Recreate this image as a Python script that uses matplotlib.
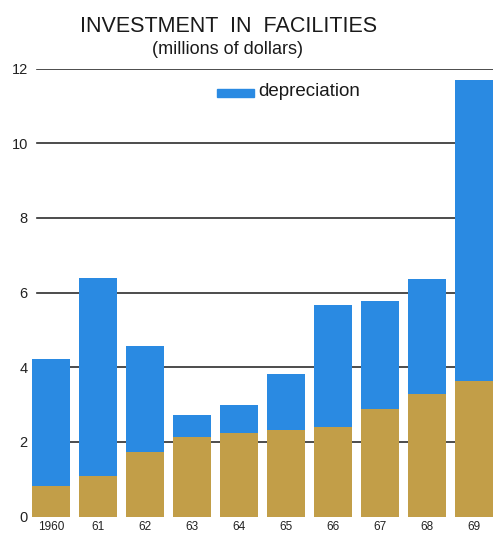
import matplotlib
matplotlib.use("Agg")
import matplotlib.pyplot as plt
from matplotlib.patches import Rectangle

years = ["1960", "61", "62", "63", "64", "65", "66", "67", "68", "69"]
total = [4.23, 6.40, 4.58, 2.71, 3.00, 3.81, 5.67, 5.77, 6.36, 11.70]
base = [0.82, 1.08, 1.72, 2.12, 2.24, 2.31, 2.39, 2.89, 3.28, 3.62]
depreciation = [t - b for t, b in zip(total, base)]
yticks = [0, 2, 4, 6, 8, 10, 12]

BLUE = "#2a8ae2"
TAN = "#c29e48"
GRID = "#2e2e2e"

plt.rcParams["font.family"] = ["Liberation Sans", "DejaVu Sans"]

fig = plt.figure(figsize=(4.95, 5.35), dpi=100)
ax = fig.add_axes([32 / 495, 18.5 / 535, 461 / 495, 448 / 535])

x = list(range(len(years)))
w = 0.81
ax.set_xlim(-w / 2, len(years) - 1 + w / 2)
ax.set_ylim(0, 12)

# horizontal rules behind the bars
for yv in yticks[1:]:
    ax.axhline(yv, xmin=0.01, xmax=1.0, color=GRID, lw=1.2, zorder=1)

ax.bar(x, base, width=w, color=TAN, zorder=2)
ax.bar(x, depreciation, bottom=base, width=w, color=BLUE, zorder=2)

for s in ax.spines.values():
    s.set_visible(False)
ax.set_yticks(yticks)
ax.set_yticklabels([str(v) for v in yticks], fontsize=10.5, color="#222222")
ax.tick_params(axis="y", length=0, pad=3)
ax.set_xticks(x)
ax.set_xticklabels(years, fontsize=8.5, color="#222222")
ax.tick_params(axis="x", length=0, pad=3)

fig.text(229 / 495, 1 - 26 / 535, "INVESTMENT  IN  FACILITIES", ha="center",
         va="center", fontsize=15.5, color="#1a1a1a")
fig.text(228 / 495, 1 - 50 / 535, "(millions of dollars)", ha="center",
         va="center", fontsize=13, color="#1a1a1a")

# legend swatch and label
fig.patches.append(Rectangle((217 / 495, 1 - 97 / 535), 37 / 495, 8 / 535,
                             transform=fig.transFigure, color=BLUE))
fig.text(258 / 495, 1 - 91.5 / 535, "depreciation", ha="left", va="center",
         fontsize=13.5, color="#1a1a1a")

fig.savefig("out.png", dpi=100, facecolor="white")
